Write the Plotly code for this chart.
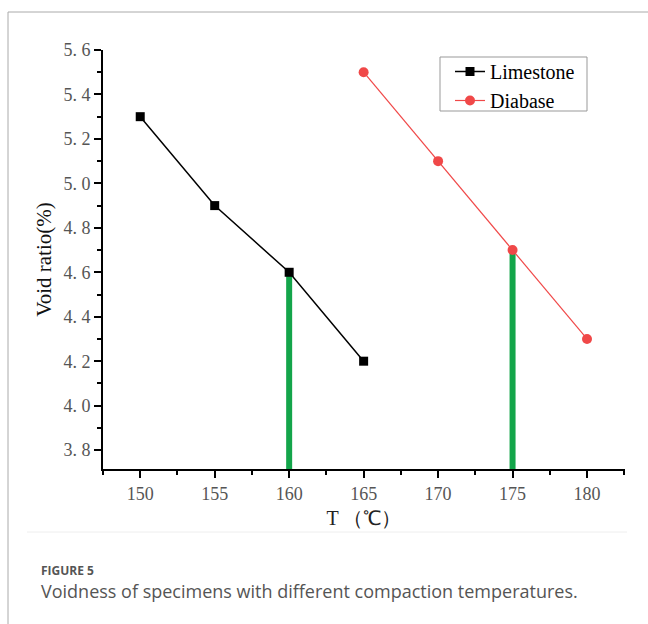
import plotly.graph_objects as go

temps_lime = [150, 155, 160, 165]
void_lime = [5.3, 4.9, 4.6, 4.2]
temps_dia = [165, 170, 175, 180]
void_dia = [5.5, 5.1, 4.7, 4.3]
opt_temps = [160, 175]
opt_voids = [4.6, 4.7]
x_ticks = [150, 155, 160, 165, 170, 175, 180]
y_ticks = [3.8, 4.0, 4.2, 4.4, 4.6, 4.8, 5.0, 5.2, 5.4, 5.6]

W, H = 648, 624
L, R, T, B = 103, 23, 50, 155
pw, ph = W - L - R, H - T - B
YMIN = 3.715

def px(x):
    return (x - L) / pw

def py(y):
    return (H - B - y) / ph

fig = go.Figure()

green = "#13A54A"
for t, v in zip(opt_temps, opt_voids):
    fig.add_trace(go.Scatter(x=[t, t], y=[YMIN, v], mode="lines",
                             line=dict(color=green, width=6), showlegend=False,
                             hoverinfo="skip"))

fig.add_trace(go.Scatter(x=temps_lime, y=void_lime, mode="lines+markers", name="Limestone",
                         line=dict(color="black", width=1.5),
                         marker=dict(symbol="square", size=9, color="black")))
fig.add_trace(go.Scatter(x=temps_dia, y=void_dia, mode="lines+markers", name="Diabase",
                         line=dict(color="#F04848", width=1.2),
                         marker=dict(symbol="circle", size=10, color="#F04848")))

serif = "Liberation Serif, Times New Roman, serif"
fig.update_xaxes(range=[147.5, 182.55], tickvals=x_ticks, ticktext=[str(v) for v in x_ticks],
                 ticks="outside", ticklen=7, tickwidth=2, tickcolor="black",
                 showline=True, linecolor="black", linewidth=2, showgrid=False, zeroline=False,
                 tickfont=dict(family=serif, size=18, color="#555555"),
                 minor=dict(ticks="outside", ticklen=4, tickwidth=1.5, tickcolor="black", dtick=2.5, tick0=147.5),
                 title=dict(text="T （℃）", font=dict(family=serif, size=20, color="#222222"), standoff=8))
fig.update_yaxes(range=[YMIN, 5.6], tickvals=y_ticks, ticktext=[f"{v:.1f}".replace(".", ". ") for v in y_ticks],
                 ticks="outside", ticklen=7, tickwidth=2, tickcolor="black",
                 showline=True, linecolor="black", linewidth=2, showgrid=False, zeroline=False,
                 tickfont=dict(family=serif, size=18, color="#555555"),
                 minor=dict(ticks="outside", ticklen=4, tickwidth=1.5, tickcolor="black", dtick=0.1, tick0=3.8),
                 title=dict(text="Void ratio(%)", font=dict(family=serif, size=21, color="#111111"), standoff=6))

fig.update_layout(
    width=W, height=H, margin=dict(l=L, r=R, t=T, b=B, autoexpand=False),
    paper_bgcolor="white", plot_bgcolor="white",
    legend=dict(x=px(450), y=py(52), xanchor="left", yanchor="top",
                borderwidth=0, bgcolor="rgba(0,0,0,0)",
                font=dict(family=serif, size=20, color="black"),
                tracegroupgap=0, itemwidth=30),
    shapes=[
        dict(type="line", xref="paper", yref="paper", x0=px(8), x1=px(650), y0=py(12), y1=py(12),
             line=dict(color="#aaaaaa", width=1)),
        dict(type="line", xref="paper", yref="paper", x0=px(8), x1=px(8), y0=py(12), y1=py(626),
             line=dict(color="#aaaaaa", width=1)),
        dict(type="line", xref="paper", yref="paper", x0=px(27), x1=px(627), y0=py(532), y1=py(532),
             line=dict(color="#eeeeee", width=1)),
        dict(type="rect", xref="paper", yref="paper", x0=px(440), x1=px(587), y0=py(57), y1=py(111),
             line=dict(color="#999999", width=1), fillcolor="rgba(0,0,0,0)", layer="below"),
    ],
    annotations=[
        dict(text="<b>FIGURE 5</b>", xref="paper", yref="paper", x=px(39), y=py(570), xanchor="left", yanchor="middle",
             showarrow=False, font=dict(family="Open Sans, Noto Sans, sans-serif", size=12, color="#555555")),
        dict(text="Voidness of specimens with different compaction temperatures.", xref="paper", yref="paper",
             x=px(39), y=py(591), xanchor="left", yanchor="middle", showarrow=False,
             font=dict(family="Open Sans, Noto Sans, sans-serif", size=18, color="#555555")),
    ],
)

fig.write_html("out.html")
